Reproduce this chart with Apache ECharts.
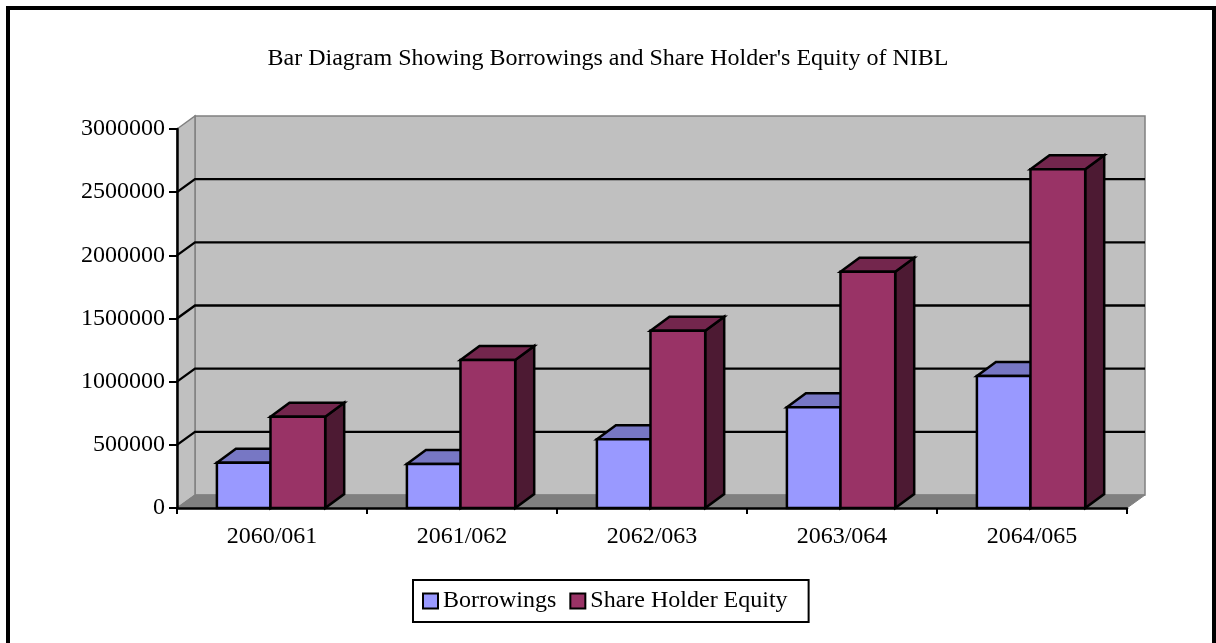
<!DOCTYPE html>
<html>
<head>
<meta charset="utf-8">
<script src="https://cdn.jsdelivr.net/npm/echarts@6/dist/echarts.min.js"></script>
<style>
html,body{margin:0;padding:0;background:#fff;}
#chart{width:1216px;height:643px;}
</style>
</head>
<body>
<div id="chart"></div>
<script>
const titleText = "Bar Diagram Showing Borrowings and Share Holder's Equity of NIBL";
const categories = ['2060/061', '2061/062', '2062/063', '2063/064', '2064/065'];
const seriesNames = ['Borrowings', 'Share Holder Equity'];
const borrowings = [358000, 348000, 544000, 797000, 1045000];
const equity = [723000, 1171000, 1403000, 1870000, 2681000];
const gridValues = [500000, 1000000, 1500000, 2000000, 2500000];
const yMin = 0, yMax = 3000000, yStep = 500000;

const FONT = "'Liberation Serif', 'Times New Roman', serif";
const WDX = 18, WDY = -13;   // wall depth offset
const BDX = 19, BDY = -14;   // bar depth offset
const BAR_FRAC = [[-0.29, -0.008], [-0.008, 0.28]];
const COLORS = [
  { front: '#9999FF', top: '#7777C4', side: '#5A5AA0' },
  { front: '#993366', top: '#73264D', side: '#4D1A33' }
];

function wallRender(params, api) {
  const cs = params.coordSys;
  const x = cs.x, y = cs.y, w = cs.width, h = cs.height;
  return {
    type: 'group',
    children: [
      { type: 'rect', shape: { x: x + WDX, y: y + WDY, width: w, height: h },
        style: { fill: '#C0C0C0', stroke: '#808080', lineWidth: 1.5 } },
      { type: 'polygon', shape: { points: [[x, y], [x + WDX, y + WDY], [x + WDX, y + h + WDY], [x, y + h]] },
        style: { fill: '#C0C0C0', stroke: '#808080', lineWidth: 1.5 } },
      { type: 'polygon', shape: { points: [[x, y + h], [x + WDX, y + h + WDY], [x + w + WDX, y + h + WDY], [x + w, y + h]] },
        style: { fill: '#808080', stroke: '#808080', lineWidth: 1 } }
    ]
  };
}

function gridRender(params, api) {
  const cs = params.coordSys;
  const p = api.coord([0, api.value(1)]);
  const yv = p[1];
  const x = cs.x, w = cs.width;
  return {
    type: 'polyline',
    shape: { points: [[x, yv], [x + WDX, yv + WDY], [x + w + WDX, yv + WDY]] },
    style: { stroke: '#000', lineWidth: 2.3, fill: null }
  };
}

function barRender(si) {
  return function (params, api) {
    const base = api.coord([api.value(0), 0]);
    const top = api.coord([api.value(0), api.value(1)]);
    const bw = api.size([1, 0])[0];
    const x0 = base[0] + bw * BAR_FRAC[si][0];
    const x1 = base[0] + bw * BAR_FRAC[si][1];
    const yb = base[1], yt = top[1];
    const c = COLORS[si];
    const st = { stroke: '#000', lineWidth: 2.5, lineJoin: 'miter' };
    return {
      type: 'group',
      children: [
        { type: 'polygon', shape: { points: [[x1, yt], [x1 + BDX, yt + BDY], [x1 + BDX, yb + BDY], [x1, yb]] },
          style: Object.assign({ fill: c.side }, st) },
        { type: 'polygon', shape: { points: [[x0, yt], [x0 + BDX, yt + BDY], [x1 + BDX, yt + BDY], [x1, yt]] },
          style: Object.assign({ fill: c.top }, st) },
        { type: 'rect', shape: { x: x0, y: yt, width: x1 - x0, height: yb - yt },
          style: Object.assign({ fill: c.front }, st) }
      ]
    };
  };
}

const chart = echarts.init(document.getElementById('chart'), null, { renderer: 'canvas' });
chart.setOption({
  animation: false,
  backgroundColor: '#fff',
  title: {
    text: titleText,
    left: 'center',
    top: 42,
    textStyle: { fontFamily: FONT, fontSize: 24, fontWeight: 'normal', color: '#000' }
  },
  graphic: [{
    type: 'rect', shape: { x: 8, y: 8, width: 1206, height: 700 },
    style: { fill: null, stroke: '#000', lineWidth: 4 }, z: 100, silent: true
  }],
  legend: {
    data: seriesNames,
    left: 413, top: 580,
    orient: 'horizontal',
    padding: [9, 21, 9, 9],
    itemGap: 13,
    itemWidth: 15, itemHeight: 15,
    icon: 'rect',
    borderColor: '#000', borderWidth: 2,
    itemStyle: { borderColor: '#000', borderWidth: 2 },
    textStyle: { fontFamily: FONT, fontSize: 24, color: '#000' }
  },
  grid: { left: 177, top: 129, right: 89, bottom: 135, containLabel: false, outerBoundsMode: 'none' },
  xAxis: {
    type: 'category',
    data: categories,
    z: 3,
    axisLine: { lineStyle: { color: '#000', width: 2.5 } },
    axisTick: { show: true, length: 6, lineStyle: { color: '#000', width: 2 } },
    axisLabel: { margin: 17, fontFamily: FONT, fontSize: 24, color: '#000' },
    splitLine: { show: false }
  },
  yAxis: {
    type: 'value',
    min: yMin, max: yMax, interval: yStep,
    z: 3,
    axisLine: { show: true, lineStyle: { color: '#000', width: 2.5 } },
    axisTick: { show: true, length: 8, lineStyle: { color: '#000', width: 2 } },
    axisLabel: { margin: 12, fontFamily: FONT, fontSize: 24, color: '#000', formatter: v => String(v) },
    splitLine: { show: false }
  },
  series: [
    { type: 'custom', name: '_walls', silent: true, z: 1, clip: false,
      renderItem: wallRender, data: [[0, 0]] },
    { type: 'custom', name: '_grid', silent: true, z: 2, clip: false,
      renderItem: gridRender, data: gridValues.map(v => [0, v]) },
    { type: 'custom', name: seriesNames[0], z: 4, clip: false,
      itemStyle: { color: COLORS[0].front },
      renderItem: barRender(0), encode: { x: 0, y: 1 },
      data: borrowings.map((v, i) => [i, v]) },
    { type: 'custom', name: seriesNames[1], z: 4, clip: false,
      itemStyle: { color: COLORS[1].front },
      renderItem: barRender(1), encode: { x: 0, y: 1 },
      data: equity.map((v, i) => [i, v]) }
  ]
});
</script>
</body>
</html>
